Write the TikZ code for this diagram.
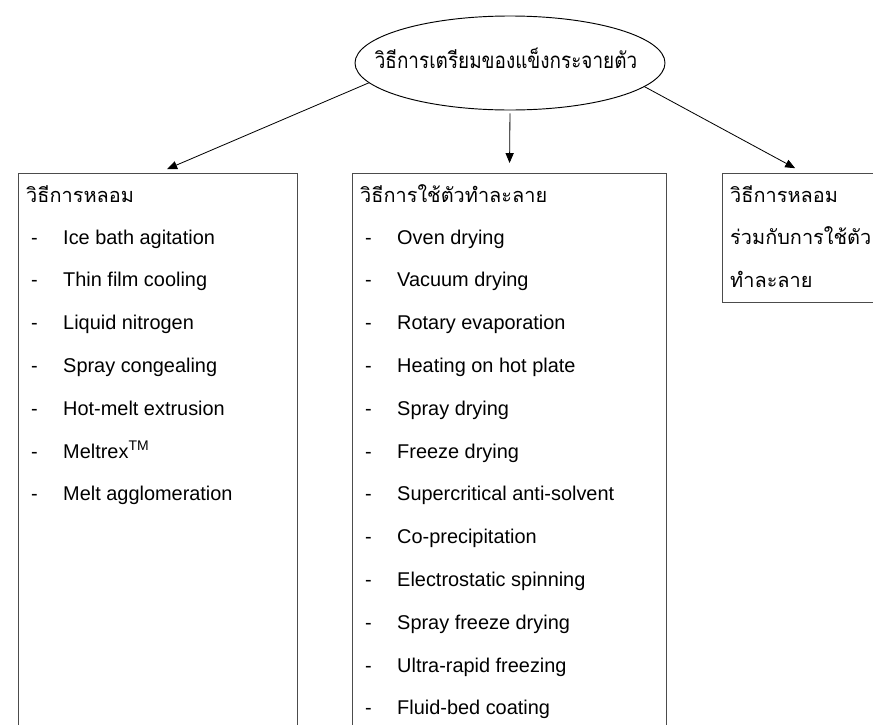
\documentclass[tikz,border=0pt]{standalone}
\usepackage{fontspec}
\setmainfont{Liberation Sans}
\newfontfamily\thaifont[Script=Thai]{Loma}
\newfontfamily\thaitall[Script=Thai,FakeStretch=0.85]{Loma}
\usetikzlibrary{shapes.geometric,arrows.meta}

\tikzset{
  box/.style={draw=black!70, line width=0.8pt, anchor=north west, inner sep=0pt, minimum height=18cm},
  item/.style={anchor=base west, inner sep=0pt},
  arr/.style={-{Triangle[length=8.5pt,width=7pt]}, line width=0.7pt, shorten >=0.3cm}
}

\begin{document}
\begin{tikzpicture}[x=0.03cm, y=-0.03cm, font=\fontsize{17}{20}\selectfont]
				\def \dy {42.8}
				\def \yo {244}
				\useasboundingbox (0,0) rectangle (873,724);
				\clip (0,0) rectangle (873,724);

				% top
				\node[draw, ellipse, line width=0.8pt, minimum width=9.3cm, minimum height=2.82cm, inner sep=0pt] (prep) at (510,63) {};
				\node[anchor=base, inner sep=0pt] (preptext) at (506,68) {\thaitall\fontsize{19}{22}\selectfont วิธีการเตรียมของแข็งกระจายตัว};

				% boxes
				\node[box, minimum width=8.37cm] (melt) at (18,173) {};
				\node[box, minimum width=9.42cm] (solv) at (352,173) {};
				\node[box, minimum width=4.89cm, minimum height=3.87cm] (both) at (722,173) {};

				\draw[arr] (prep.188) -- (melt.north);
				\draw[arr, shorten <=0.09cm] (prep.south) -- (solv.north);
				\draw[arr] (prep.-10) -- (both.north);

				% melting
				\node[item] (melt-h) at (26,202) {\thaifont วิธีการหลอม};
				\foreach \i/\t in {1/Ice bath agitation,2/Thin film cooling,3/Liquid nitrogen,4/Spray congealing,5/Hot-melt extrusion,6/{Meltrex\textsuperscript{TM}},7/Melt agglomeration} {
					\node[item] (melt-d\i) at (31,{\yo+(\i-1)*\dy}) {-};
					\node[item] (melt-\i) at (63,{\yo+(\i-1)*\dy}) {\t};
				}

				% solvent
				\node[item] (solv-h) at (360,202) {\thaifont วิธีการใช้ตัวทำละลาย};
				\foreach \i/\t in {1/Oven drying,2/Vacuum drying,3/Rotary evaporation,4/Heating on hot plate,5/Spray drying,6/Freeze drying,7/Supercritical anti-solvent,8/Co-precipitation,9/Electrostatic spinning,10/Spray freeze drying,11/Ultra-rapid freezing,12/Fluid-bed coating} {
					\node[item] (solv-d\i) at (365,{\yo+(\i-1)*\dy}) {-};
					\node[item] (solv-\i) at (397,{\yo+(\i-1)*\dy}) {\t};
				}

				% melting + solvent
				\node[item] (both-1) at (730,202) {\thaifont วิธีการหลอม};
				\node[item] (both-2) at (730,244) {\thaifont ร่วมกับการใช้ตัว};
				\node[item] (both-3) at (730,287) {\thaifont ทำละลาย};
			\end{tikzpicture}
\end{document}
